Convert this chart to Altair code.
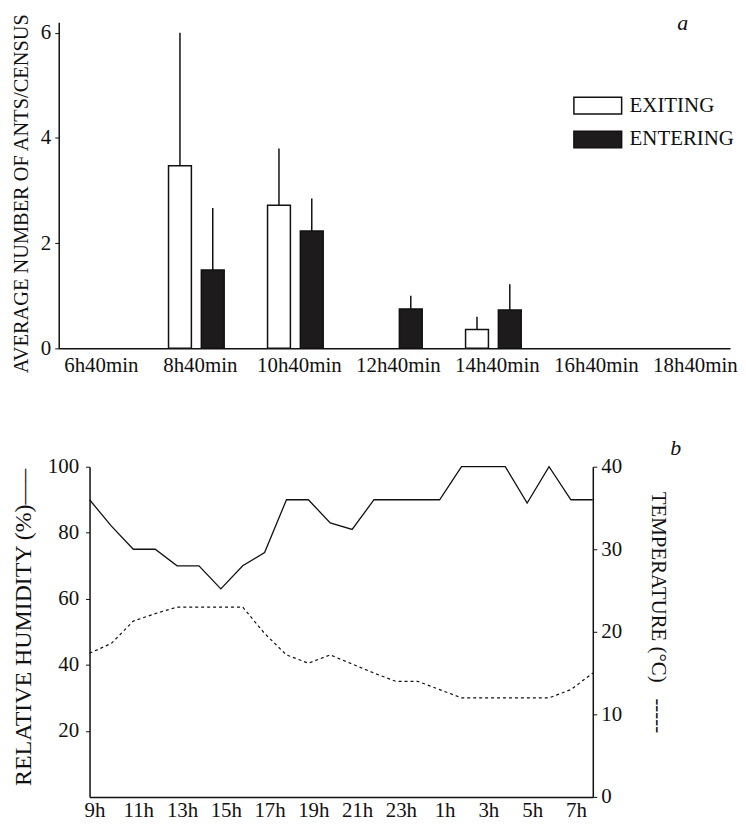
import altair as alt
import pandas as pd

# ---------- panel a ----------
times = ["6h40min", "8h40min", "10h40min", "12h40min", "14h40min", "16h40min", "18h40min"]
directions = ["EXITING", "ENTERING"]
exiting_mean = [0, 3.47, 2.72, 0, 0.36, 0, 0]
exiting_err = [0, 2.53, 1.08, 0, 0.24, 0, 0]
entering_mean = [0, 1.49, 2.23, 0.75, 0.73, 0, 0]
entering_err = [0, 1.18, 0.62, 0.25, 0.49, 0, 0]

# ---------- panel b ----------
hours = ["9h", "10h", "11h", "12h", "13h", "14h", "15h", "16h", "17h", "18h", "19h", "20h",
         "21h", "22h", "23h", "0h", "1h", "2h", "3h", "4h", "5h", "6h", "7h", "8h"]
hour_labels = ["9h", "11h", "13h", "15h", "17h", "19h", "21h", "23h", "1h", "3h", "5h", "7h"]
humidity = [90, 82, 75, 75, 70, 70, 63, 70, 74, 90, 90, 83,
            81, 90, 90, 90, 90, 100, 100, 100, 89, 100, 90, 90]
temperature = [17.4, 18.6, 21.3, 22.2, 23, 23, 23, 23, 19.8, 17.2, 16.2, 17.2,
               16.1, 15, 14, 14, 13, 12, 12, 12, 12, 12, 13, 15]

panel_labels = ["a", "b"]

FONT = "Liberation Serif"
INK = "#111111"
SHIFT = 31  # bottom panel's left axis sits this far right of the top panel's

df_a = pd.DataFrame({
    "time": times * 2,
    "direction": [directions[0]] * len(times) + [directions[1]] * len(times),
    "mean": exiting_mean + entering_mean,
    "err": exiting_err + entering_err,
})

base_a = alt.Chart(df_a).transform_filter("datum.mean > 0").encode(
    x=alt.X("time:N", sort=times,
            scale=alt.Scale(domain=times, paddingInner=0.42, paddingOuter=0.1),
            axis=alt.Axis(title=None, labelAngle=0, ticks=False, labelPadding=6,
                          labelFont=FONT, labelFontSize=21, labelOffset=4, domainWidth=1.5)),
    xOffset=alt.XOffset("direction:N",
                        scale=alt.Scale(domain=directions, paddingInner=0.303, paddingOuter=0.027)),
)

bars = base_a.mark_bar(stroke=INK, strokeWidth=1.5).encode(
    y=alt.Y("mean:Q", scale=alt.Scale(domain=[0, 6.2], nice=False),
            axis=alt.Axis(values=[0, 2, 4, 6], format="d", title="AVERAGE NUMBER OF ANTS/CENSUS",
                          titleFont=FONT, titleFontSize=20.5, titlePadding=9, titleY=172,
                          labelFont=FONT, labelFontSize=21,
                          labelPadding=4, tickSize=4, domainWidth=1.5)),
    fill=alt.Fill("direction:N",
                  scale=alt.Scale(domain=directions, range=["white", "#1e1b1c"]),
                  legend=alt.Legend(title=None, orient="none", legendX=529, legendY=71,
                                    symbolType="M-2,-0.7H2V0.7H-2Z", symbolSize=576,
                                    symbolStrokeColor=INK, symbolStrokeWidth=1.5,
                                    symbolOpacity=1, labelFont=FONT, labelFontSize=21,
                                    labelColor=INK, labelOffset=19, rowPadding=9, padding=0)),
)

errs = base_a.transform_filter("datum.err > 0").transform_calculate(
    upper="datum.mean + datum.err"
).mark_rule(color=INK, strokeWidth=1.5).encode(
    y="mean:Q", y2="upper:Q"
)

label_a = alt.Chart(pd.DataFrame({"panel": [panel_labels[0]]})).mark_text(
    font=FONT, fontSize=22, fontStyle="italic", color=INK, align="left", baseline="alphabetic"
).encode(text="panel:N", x=alt.value(622), y=alt.value(8))

top = alt.layer(bars, errs, label_a).properties(width=675, height=328)

# ---------- bottom ----------
df_b = pd.DataFrame({"hour": hours, "humidity": humidity, "temperature": temperature})

W_B = 506 + SHIFT
xb = alt.X("hour:O", sort=hours,
           scale=alt.Scale(type="point", domain=hours, padding=0, range=[SHIFT, W_B]),
           axis=alt.Axis(title=None, values=hour_labels, labelAngle=0, ticks=False,
                         labelPadding=3, labelFont=FONT, labelFontSize=21, labelOffset=5,
                         domainWidth=1.5))

hum = alt.Chart(df_b).mark_line(color=INK, strokeWidth=1.3).encode(
    x=xb,
    y=alt.Y("humidity:Q", scale=alt.Scale(domain=[0, 100], nice=False),
            axis=alt.Axis(orient="left", values=[20, 40, 60, 80, 100], offset=-SHIFT,
                          title="RELATIVE HUMIDITY (%)\u2014\u2013",
                          titleFont=FONT, titleFontSize=24, titlePadding=12, titleY=161,
                          labelFont=FONT, labelFontSize=21,
                          labelPadding=7, tickSize=4, domainWidth=1.5)),
)

temp = alt.Chart(df_b).mark_line(color=INK, strokeWidth=1.2, strokeDash=[3, 3]).encode(
    x=xb,
    y=alt.Y("temperature:Q", scale=alt.Scale(domain=[0, 40], nice=False),
            axis=alt.Axis(orient="right", values=[0, 10, 20, 30, 40],
                          title="TEMPERATURE (\u00b0C)\u00a0\u00a0\u00a0-----",
                          titleFont=FONT, titleFontSize=21, titlePadding=26, titleY=146,
                          labelFont=FONT, labelFontSize=21,
                          labelPadding=4, tickSize=4, domainWidth=1.5)),
)

label_b = alt.Chart(pd.DataFrame({"panel": [panel_labels[1]]})).mark_text(
    font=FONT, fontSize=22, fontStyle="italic", color=INK, align="left", baseline="alphabetic"
).encode(text="panel:N", x=alt.value(584 + SHIFT), y=alt.value(-12))

bottom = alt.layer(hum, temp, label_b).resolve_scale(y="independent").properties(
    width=W_B, height=332,
)

chart = alt.vconcat(top, bottom, spacing=62).properties(
    padding={"left": 3, "top": 2, "right": 0, "bottom": 0}
).configure_view(stroke=None).configure_axis(
    labelFont=FONT, titleFont=FONT, labelColor=INK, titleColor=INK,
    domainColor=INK, tickColor=INK, grid=False, titleFontWeight="normal",
)

chart.save("out.html", embed_options={"renderer": "svg", "actions": False})
